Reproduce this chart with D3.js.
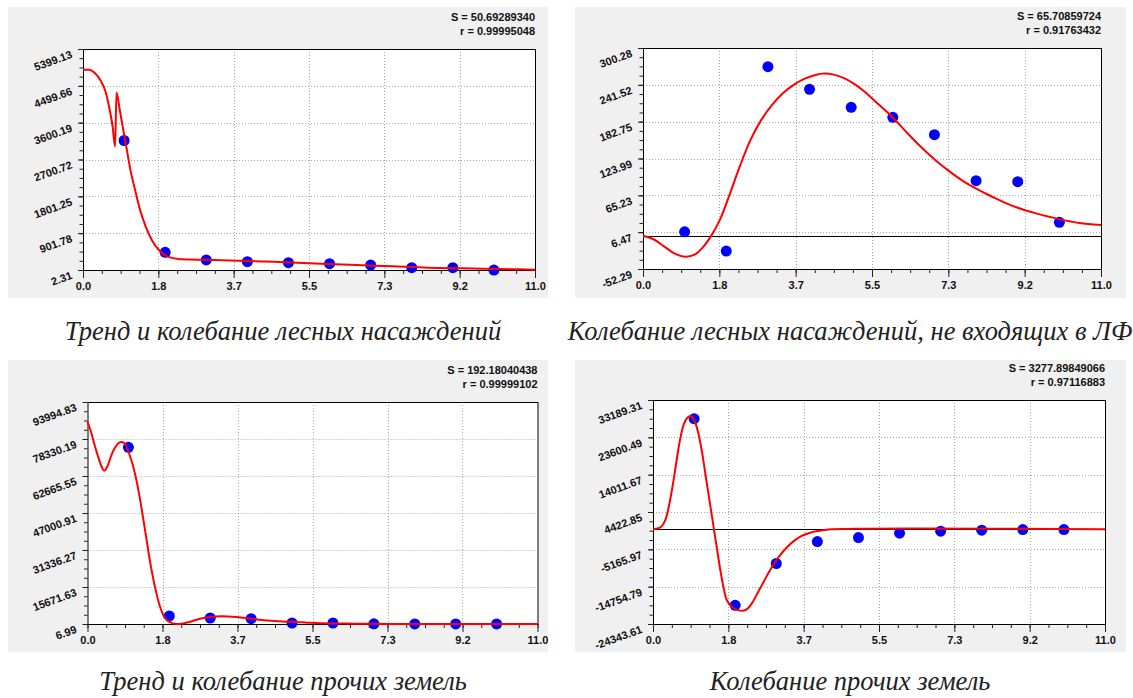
<!DOCTYPE html>
<html>
<head>
<meta charset="utf-8">
<script src="https://cdn.jsdelivr.net/npm/d3@7"></script>
<style>
body{margin:0;background:#fff;}
svg{display:block;}
.lbl{font-family:"Liberation Sans",Arial,sans-serif;font-size:11px;font-weight:bold;fill:#111;}
.caption{font-family:"Liberation Serif","Times New Roman",serif;font-style:italic;font-size:26.5px;fill:#222;}
</style>
</head>
<body>
<svg id="chart" width="1133" height="698"></svg>
<script>
// observation years, same for all four panels
var obsX = [1, 2, 3, 4, 5, 6, 7, 8, 9, 10];
var xTickLabels = ["0.0", "1.8", "3.7", "5.5", "7.3", "9.2", "11.0"];

// forest plantations: trend + oscillation
var forestTrendObs = [3165, 434, 247, 206, 181, 157, 124, 59, 59, 0];
var forestTrendFit = [[0,4893],[0.156,4893],[0.286,4812],[0.416,4649],[0.547,4363],[0.633,3997],[0.72,3508],[0.781,3018],
  [0.815,4339],[0.894,3915],[0.98,3426],[1.067,2937],[1.154,2448],[1.267,1959],[1.388,1470],[1.527,1062],[1.674,736],
  [1.847,491],[2.065,328],[2.325,271],[2.758,255],[3.19,247],[4.06,222],[4.93,190],[5.8,157],[6.66,124],[7.53,92],
  [8.4,59],[9.26,43],[10.13,27],[11,10]];
var forestTrendTicks = ["2.31", "901.78", "1801.25", "2700.72", "3600.19", "4499.66", "5399.13"];

// forest plantations outside forest fund: oscillation
var forestOutObs = [7, -23.6, 270.5, 234.3, 205.6, 189.7, 162.0, 88.6, 87.0, 22.2];
var forestOutFit = [[0,0.9],[0.243,-4.4],[0.503,-16.1],[0.763,-27.8],[1.006,-32.6],[1.24,-29.4],[1.457,-16.1],[1.63,-0.2],
  [1.848,26.4],[2.065,63.6],[2.325,111.5],[2.585,154],[2.845,186],[3.105,210],[3.366,228.5],[3.626,241.8],
  [3.886,251.4],[4.147,257.2],[4.32,259.4],[4.58,257.8],[4.84,251.9],[5.1,241.8],[5.36,228.5],[5.62,212.5],
  [5.97,191.3],[6.31,167.3],[6.66,143.4],[7.01,122.1],[7.36,103.5],[7.7,87.6],[8.05,74.3],[8.4,62.6],[8.74,52.0],
  [9.09,43.4],[9.44,36.5],[9.78,30.7],[10.13,25.3],[10.48,21.1],[11,17.9]];
var forestOutTicks = ["-52.29", "6.47", "65.23", "123.99", "182.75", "241.52", "300.28"];

// other lands: trend + oscillation
var otherTrendObs = [74800, 3394, 2547, 2265, 430, 430, 100, 50, 30, 20];
var otherTrendFit = [[0,85525],[0.087,81290],[0.175,75650],[0.262,70710],[0.349,66480],[0.41,64930],[0.48,66480],
  [0.567,70710],[0.655,74240],[0.76,76640],[0.829,77060],[0.917,76350],[1.004,72820],[1.109,67180],[1.222,58710],
  [1.336,47420],[1.44,36130],[1.545,24840],[1.659,14960],[1.763,7910],[1.877,2970],[2.008,850],[2.183,0],[2.31,150],
  [2.49,850],[2.75,2265],[3.01,2970],[3.27,3250],[3.54,3110],[3.8,2690],[4.06,2120],[4.32,1560],[4.58,1280],
  [4.85,990],[5.1,850],[5.37,570],[5.72,290],[6.59,150],[7.46,7],[11,7]];
var otherTrendTicks = ["6.99", "15671.63", "31336.27", "47000.91", "62665.55", "78330.19", "93994.83"];

// other lands: oscillation
var otherOscObs = [28400, -19556, -8805, -3163, -2137, -1026, -513, -256, -85, -85];
var otherOscFit = [[0,0],[0.132,256],[0.22,855],[0.308,2565],[0.396,6412],[0.484,11541],[0.572,17525],[0.66,23082],
  [0.748,26929],[0.836,28639],[0.924,29067],[1.012,27784],[1.1,24792],[1.188,20090],[1.276,14106],[1.364,8122],
  [1.452,2137],[1.54,-3847],[1.628,-9831],[1.716,-14961],[1.804,-18380],[1.936,-20090],[2.068,-20774],[2.182,-20945],
  [2.288,-20518],[2.42,-18808],[2.552,-16243],[2.684,-13678],[2.816,-11114],[2.948,-8805],[3.08,-6839],[3.256,-4702],
  [3.432,-2992],[3.608,-1795],[3.784,-1026],[3.96,-513],[4.136,-256],[4.356,0],[11,0]];
var otherOscTicks = ["-24343.61", "-14754.79", "-5165.97", "4422.85", "14011.67", "23600.49", "33189.31"];

var yMins = [2.31, -52.29, 6.99, -24343.61];
var yMaxs = [5399.13, 300.28, 93994.83, 33189.31];
var statS = ["50.69289340", "65.70859724", "192.18040438", "3277.89849066"];
var statR = ["0.99995048", "0.91763432", "0.99999102", "0.97116883"];
var captions = [
  "Тренд и колебание лесных насаждений",
  "Колебание лесных насаждений, не входящих в ЛФ",
  "Тренд и колебание прочих земель",
  "Колебание прочих земель"
];
var xMax = 11;

var charts = {};

charts.init = function(){
  this.svg = d3.select("#chart");
  // gray box, plot area, caption position for every panel
  this.layout = [
    {box:[8,7,548,298], plot:[83,49,535,270], cap:[283,340], zero:false, curve:d3.curveMonotoneX},
    {box:[575,7,1126,298], plot:[643,48,1101,269], cap:[850,340], zero:true, curve:d3.curveCatmullRom.alpha(0.5)},
    {box:[8,360,548,652], plot:[87.5,402,537.5,624], cap:[283,690], zero:false, curve:d3.curveCatmullRom.alpha(0.5)},
    {box:[575,360,1126,652], plot:[653,400,1105,624], cap:[850,690], zero:true, curve:d3.curveCatmullRom.alpha(0.5)}
  ];
}

charts.drawPanel = function(i, obs, fit, yLabels){
  var L = this.layout[i];
  var svg = this.svg;
  var g = svg.append("g");
  var left = L.plot[0], top = L.plot[1], right = L.plot[2], bottom = L.plot[3];

  g.append("rect")
    .attr("x", L.box[0]).attr("y", L.box[1])
    .attr("width", L.box[2]-L.box[0]).attr("height", L.box[3]-L.box[1])
    .attr("fill", "#f0f0f0");

  g.append("rect")
    .attr("x", left).attr("y", top)
    .attr("width", right-left).attr("height", bottom-top)
    .attr("fill", "#fff");

  var x = d3.scaleLinear().domain([0, xMax]).range([left, right]);
  var y = d3.scaleLinear().domain([yMins[i], yMaxs[i]]).range([bottom, top]);

  var xMajor = d3.range(7).map(function(k){ return xMax*k/6; });
  var xMinor = d3.range(25).map(function(k){ return xMax*k/24; });
  var yMajor = d3.range(7).map(function(k){ return yMins[i] + (yMaxs[i]-yMins[i])*k/6; });
  var yMinor = d3.range(25).map(function(k){ return yMins[i] + (yMaxs[i]-yMins[i])*k/24; });

  // dotted grid
  g.selectAll(".gx").data(xMajor.slice(1,6)).enter().append("line")
    .attr("x1", function(d){ return Math.round(x(d))+0.5; })
    .attr("x2", function(d){ return Math.round(x(d))+0.5; })
    .attr("y1", top).attr("y2", bottom)
    .attr("stroke", "#a8a8a8").attr("stroke-dasharray", "1,2");
  g.selectAll(".gy").data(yMajor.slice(1,6)).enter().append("line")
    .attr("y1", function(d){ return Math.round(y(d))+0.5; })
    .attr("y2", function(d){ return Math.round(y(d))+0.5; })
    .attr("x1", left).attr("x2", right)
    .attr("stroke", "#a8a8a8").attr("stroke-dasharray", "1,2");

  if (L.zero){
    g.append("line")
      .attr("x1", left).attr("x2", right)
      .attr("y1", Math.round(y(0))+0.5).attr("y2", Math.round(y(0))+0.5)
      .attr("stroke", "#000").attr("stroke-width", 1);
  }

  // minor + major ticks
  var axB = g.append("g").attr("transform", "translate(0," + bottom + ")");
  axB.call(d3.axisBottom(x).tickValues(xMinor).tickSize(4).tickFormat(""));
  var axB2 = g.append("g").attr("transform", "translate(0," + bottom + ")");
  axB2.call(d3.axisBottom(x).tickValues(xMajor).tickSize(8).tickPadding(4)
    .tickFormat(function(d,k){ return xTickLabels[k]; }));
  var axL = g.append("g").attr("transform", "translate(" + left + ",0)");
  axL.call(d3.axisLeft(y).tickValues(yMinor).tickSize(3.5).tickFormat(""));
  var axL2 = g.append("g").attr("transform", "translate(" + left + ",0)");
  axL2.call(d3.axisLeft(y).tickValues(yMajor).tickSize(5)
    .tickFormat(function(d,k){ return yLabels[k]; }));

  [axB, axB2, axL, axL2].forEach(function(a){
    a.select(".domain").remove();
    a.selectAll("line").attr("stroke", "#222");
    a.selectAll("text").attr("class", "lbl").attr("font-size", null).attr("font-family", null).attr("fill", null);
  });
  axL2.selectAll("text")
    .attr("x", null).attr("dy", null)
    .attr("text-anchor", "end")
    .attr("transform", "translate(-10,8) rotate(-20)");

  // frame
  g.append("rect")
    .attr("x", left+0.5).attr("y", top+0.5)
    .attr("width", right-left).attr("height", bottom-top)
    .attr("fill", "none").attr("stroke", "#000");

  // observed points
  g.selectAll(".dot").data(obs).enter().append("circle")
    .attr("cx", function(d,k){ return x(obsX[k]); })
    .attr("cy", function(d){ return y(d); })
    .attr("r", 5.5)
    .attr("fill", "#0000ff");

  // fitted curve
  var line = d3.line()
    .x(function(d){ return x(d[0]); })
    .y(function(d){ return y(d[1]); })
    .curve(L.curve);
  g.append("path")
    .datum(fit)
    .attr("d", line)
    .attr("fill", "none")
    .attr("stroke", "#ff0000")
    .attr("stroke-width", 2);

  // S and r
  g.append("text").attr("class", "lbl")
    .attr("x", right).attr("y", top-28)
    .attr("text-anchor", "end")
    .text("S = " + statS[i]);
  g.append("text").attr("class", "lbl")
    .attr("x", right).attr("y", top-14)
    .attr("text-anchor", "end")
    .text("r = " + statR[i]);

  svg.append("text").attr("class", "caption")
    .attr("x", L.cap[0]).attr("y", L.cap[1])
    .attr("text-anchor", "middle")
    .text(captions[i]);
}

charts.init();
charts.drawPanel(0, forestTrendObs, forestTrendFit, forestTrendTicks);
charts.drawPanel(1, forestOutObs, forestOutFit, forestOutTicks);
charts.drawPanel(2, otherTrendObs, otherTrendFit, otherTrendTicks);
charts.drawPanel(3, otherOscObs, otherOscFit, otherOscTicks);
</script>
</body>
</html>
